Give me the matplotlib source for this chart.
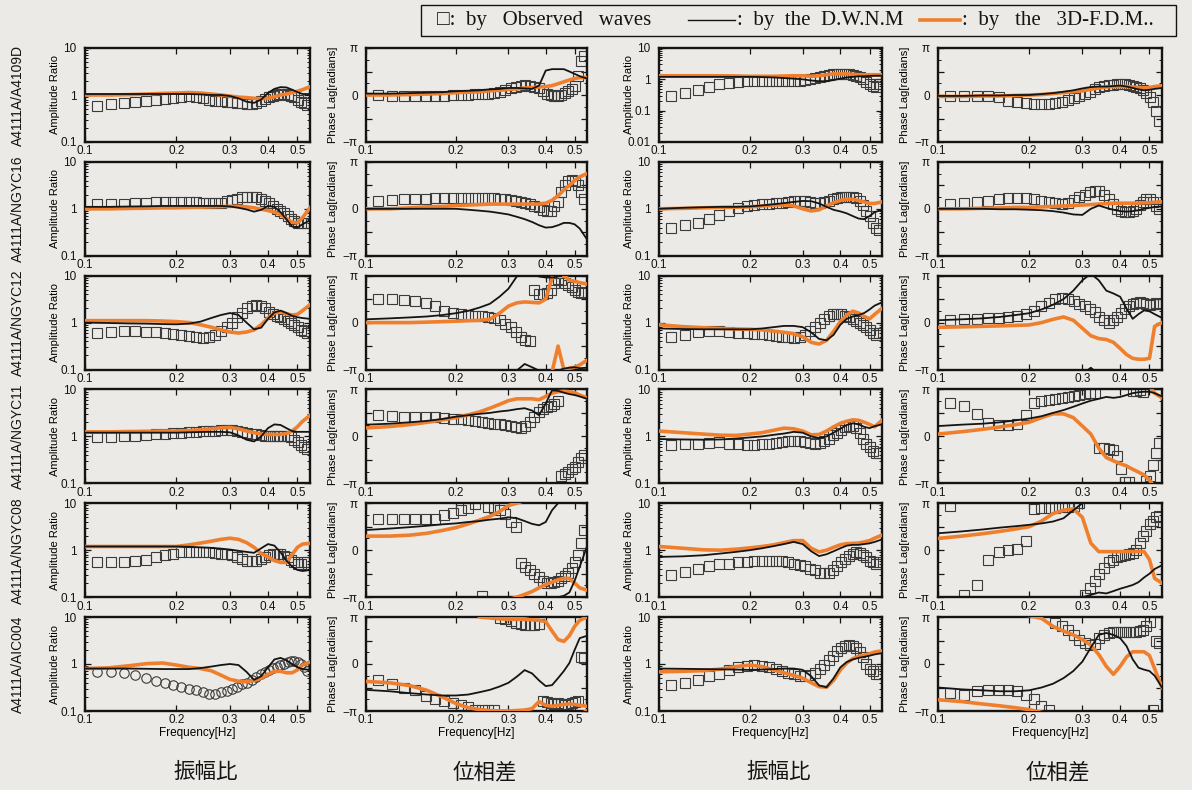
import numpy as np
import matplotlib
matplotlib.use("Agg")
import matplotlib.pyplot as plt
from matplotlib.lines import Line2D
from matplotlib.patches import Rectangle
from matplotlib.ticker import FixedLocator, FixedFormatter, NullLocator, NullFormatter, LogLocator

nan = np.nan

# ---------------------------------------------------------------- frequencies
# spectral lines of the observed records (df = 1/81.92 s)
FREQ_OBS = np.arange(9, 45) * 0.01220703125
# frequencies at which the model curves are listed
FREQ_MODEL = [0.10, 0.12, 0.14, 0.16, 0.18, 0.20, 0.22, 0.24, 0.26, 0.28, 0.30, 0.32,
              0.34, 0.36, 0.38, 0.40, 0.42, 0.44, 0.46, 0.48, 0.50, 0.52, 0.55]

STATIONS = ["A4111A/A4109D", "A4111A/NGYC16", "A4111A/NGYC12",
            "A4111A/NGYC11", "A4111A/NGYC08", "A4111A/AIC004"]
X_TICKS = [0.1, 0.2, 0.3, 0.4, 0.5]
X_TICK_LABELS = ["0.1", "0.2", "0.3", "0.4", "0.5"]
PHASE_TICKS = [-1.0, -0.5, 0.0, 0.5, 1.0]          # in units of pi
PHASE_TICK_LABELS = ["\u2212\u03c0", "", "0", "", "\u03c0"]
BOTTOM_TITLES = ["振幅比", "位相差", "振幅比", "位相差"]

# ---------------------------------------------------------------- A4109D
a4109d_l_amp_obs = [0.58, 0.63, 0.68, 0.71, 0.76, 0.80, 0.83, 0.85, 0.90, 0.94, 0.92, 0.87,
                    0.80, 0.76, 0.74, 0.71, 0.70, 0.68, 0.67, 0.65, 0.64, 0.68, 0.74, 0.83,
                    0.92, 0.97, 1.02, 1.07, 1.07, 1.02, 0.97, 0.90, 0.80, 0.72, 0.66, 0.60]
a4109d_l_amp_dwnm = [1.05, 1.05, 1.05, 1.05, 1.05, 1.05, 1.05, 1.03, 1.0, 1.0, 0.95, 0.85,
                     0.72, 0.68, 0.8, 1.1, 1.35, 1.47, 1.45, 1.3, 1.15, 1.05, 1.05]
a4109d_l_amp_fdm = [1.0, 1.0, 1.02, 1.05, 1.08, 1.1, 1.12, 1.1, 1.05, 1.0, 0.95, 0.9,
                    0.88, 0.85, 0.83, 0.85, 0.92, 1.0, 1.05, 1.12, 1.2, 1.3, 1.5]
a4109d_l_ph_obs = [0.0, -0.02, -0.02, -0.03, -0.03, -0.03, -0.02, 0.0, 0.0, 0.01, 0.02, 0.03,
                   0.03, 0.04, 0.06, 0.10, 0.15, 0.18, 0.20, 0.21, 0.20, 0.18, 0.14, 0.08,
                   0.02, 0.0, -0.03, -0.02, 0.0, 0.05, 0.08, 0.12, 0.20, 0.40, 0.72, 0.82]
a4109d_l_ph_dwnm = [0.03, 0.03, 0.04, 0.05, 0.06, 0.08, 0.09, 0.1, 0.12, 0.13, 0.15, 0.15,
                    0.14, 0.13, 0.2, 0.52, 0.55, 0.55, 0.55, 0.5, 0.45, 0.4, 0.35]
a4109d_l_ph_fdm = [0.0, 0.0, 0.01, 0.02, 0.03, 0.05, 0.06, 0.07, 0.09, 0.1, 0.12, 0.13,
                   0.15, 0.16, 0.17, 0.18, 0.2, 0.24, 0.28, 0.32, 0.35, 0.37, 0.37]

a4109d_r_amp_obs = [0.30, 0.37, 0.45, 0.58, 0.72, 0.78, 0.84, 0.88, 0.90, 0.90, 0.90, 0.90,
                    0.90, 0.90, 0.90, 0.90, 0.92, 1.0, 1.1, 1.2, 1.3, 1.4, 1.45, 1.5,
                    1.5, 1.5, 1.45, 1.4, 1.3, 1.2, 1.0, 0.85, 0.7, 0.6, 0.55, 0.7]
a4109d_r_amp_dwnm = [1.2, 1.2, 1.2, 1.2, 1.2, 1.2, 1.18, 1.15, 1.1, 1.05, 1.0, 0.92,
                     0.87, 0.87, 0.95, 1.05, 1.15, 1.2, 1.25, 1.25, 1.28, 1.3, 1.3]
a4109d_r_amp_fdm = [1.3, 1.3, 1.3, 1.3, 1.28, 1.25, 1.25, 1.25, 1.28, 1.3, 1.3, 1.25,
                    1.3, 1.4, 1.5, 1.5, 1.5, 1.45, 1.4, 1.4, 1.4, 1.4, 1.4]
a4109d_r_ph_obs = [-0.03, -0.02, -0.02, -0.03, -0.05, -0.12, -0.15, -0.18, -0.20, -0.20, -0.19, -0.17,
                   -0.14, -0.10, -0.07, -0.03, 0.02, 0.07, 0.12, 0.17, 0.20, 0.22, 0.22, 0.23,
                   0.23, 0.23, 0.22, 0.20, 0.18, 0.15, 0.10, 0.05, -0.05, -0.15, -0.35, -0.55]
a4109d_r_ph_dwnm = [-0.02, -0.02, -0.01, -0.01, 0.0, 0.0, 0.02, 0.04, 0.07, 0.1, 0.14, 0.17,
                    0.18, 0.18, 0.19, 0.2, 0.18, 0.15, 0.12, 0.1, 0.11, 0.13, 0.15]
a4109d_r_ph_fdm = [-0.03, -0.03, -0.02, -0.02, -0.01, 0.0, 0.01, 0.03, 0.05, 0.07, 0.09, 0.12,
                   0.15, 0.17, 0.18, 0.18, 0.18, 0.17, 0.16, 0.15, 0.16, 0.18, 0.2]

# ---------------------------------------------------------------- NGYC16
ngyc16_l_amp_obs = [1.25, 1.25, 1.28, 1.30, 1.35, 1.38, 1.40, 1.40, 1.42, 1.40, 1.38, 1.35,
                    1.30, 1.30, 1.35, 1.45, 1.55, 1.65, 1.75, 1.80, 1.80, 1.75, 1.60, 1.45,
                    1.30, 1.15, 1.00, 0.90, 0.80, 0.70, 0.60, 0.55, 0.50, 0.50, 0.50, 0.50]
ngyc16_l_amp_dwnm = [1.1, 1.1, 1.12, 1.13, 1.15, 1.15, 1.15, 1.15, 1.15, 1.15, 1.12, 1.05,
                     0.97, 0.87, 0.95, 1.15, 1.1, 0.85, 0.6, 0.42, 0.4, 0.47, 0.57]
ngyc16_l_amp_fdm = [1.0, 1.0, 1.02, 1.03, 1.05, 1.05, 1.07, 1.08, 1.1, 1.12, 1.13, 1.13,
                    1.1, 1.05, 0.98, 0.92, 0.85, 0.75, 0.62, 0.52, 0.5, 0.65, 1.05]
ngyc16_l_ph_obs = [0.17, 0.18, 0.20, 0.20, 0.20, 0.22, 0.22, 0.22, 0.23, 0.23, 0.23, 0.23,
                   0.22, 0.22, 0.20, 0.20, 0.18, 0.17, 0.15, 0.12, 0.10, 0.07, 0.03, -0.02,
                   -0.05, -0.05, 0.05, 0.15, 0.35, 0.50, 0.60, 0.62, 0.60, 0.50, 0.35, 0.20]
ngyc16_l_ph_dwnm = [0.0, 0.0, 0.0, 0.0, 0.0, 0.0, -0.02, -0.04, -0.06, -0.09, -0.12, -0.17,
                    -0.22, -0.28, -0.35, -0.4, -0.39, -0.35, -0.3, -0.3, -0.33, -0.42, -0.65]
ngyc16_l_ph_fdm = [0.0, 0.0, 0.02, 0.04, 0.05, 0.07, 0.08, 0.09, 0.1, 0.1, 0.1, 0.1,
                   0.1, 0.1, 0.1, 0.12, 0.18, 0.28, 0.4, 0.5, 0.6, 0.68, 0.75]

ngyc16_r_amp_obs = [0.40, 0.45, 0.50, 0.60, 0.75, 0.90, 1.05, 1.15, 1.20, 1.25, 1.28, 1.30,
                    1.35, 1.40, 1.45, 1.50, 1.45, 1.40, 1.35, 1.35, 1.40, 1.50, 1.60, 1.70,
                    1.75, 1.80, 1.80, 1.80, 1.70, 1.50, 1.20, 0.90, 0.70, 0.50, 0.40, 0.35]
ngyc16_r_amp_dwnm = [1.0, 1.05, 1.08, 1.1, 1.1, 1.12, 1.18, 1.25, 1.32, 1.4, 1.47, 1.45,
                     1.3, 1.1, 0.95, 0.88, 0.8, 0.7, 0.62, 0.6, 0.7, 0.85, 0.95]
ngyc16_r_amp_fdm = [1.0, 1.02, 1.05, 1.07, 1.08, 1.1, 1.15, 1.2, 1.22, 1.15, 1.0, 0.9,
                    0.95, 1.15, 1.35, 1.5, 1.6, 1.6, 1.5, 1.4, 1.3, 1.3, 1.4]
ngyc16_r_ph_obs = [0.10, 0.12, 0.14, 0.17, 0.20, 0.22, 0.23, 0.22, 0.20, 0.17, 0.14, 0.12,
                   0.10, 0.12, 0.18, 0.25, 0.30, 0.35, 0.38, 0.37, 0.30, 0.20, 0.10, 0.0,
                   -0.05, -0.07, -0.07, -0.05, 0.0, 0.08, 0.15, 0.20, 0.20, 0.15, 0.05, 0.0]
ngyc16_r_ph_dwnm = [0.0, 0.0, 0.0, -0.01, -0.01, -0.02, -0.03, -0.05, -0.08, -0.12, -0.13, 0.0,
                    0.07, 0.02, -0.02, -0.05, -0.06, -0.05, -0.03, 0.0, 0.02, 0.04, 0.05]
ngyc16_r_ph_fdm = [0.0, 0.0, 0.01, 0.02, 0.03, 0.03, 0.04, 0.05, 0.06, 0.07, 0.08, 0.09,
                   0.1, 0.11, 0.12, 0.12, 0.12, 0.12, 0.12, 0.13, 0.13, 0.14, 0.15]

# ---------------------------------------------------------------- NGYC12
ngyc12_l_amp_obs = [0.60, 0.62, 0.65, 0.65, 0.63, 0.62, 0.60, 0.57, 0.55, 0.53, 0.50, 0.48,
                    0.50, 0.55, 0.65, 0.80, 1.00, 1.30, 1.60, 2.00, 2.30, 2.40, 2.30, 2.00,
                    1.70, 1.50, 1.40, 1.30, 1.20, 1.10, 1.00, 0.90, 0.80, 0.70, 0.65, 0.60]
ngyc12_l_amp_dwnm = [1.0, 0.98, 0.96, 0.95, 0.93, 0.92, 0.95, 1.05, 1.25, 1.45, 1.6, 1.45,
                     1.0, 0.72, 0.78, 1.2, 1.65, 1.8, 1.6, 1.4, 1.3, 1.25, 1.2]
ngyc12_l_amp_fdm = [1.1, 1.1, 1.1, 1.1, 1.08, 1.05, 1.0, 0.9, 0.8, 0.7, 0.63, 0.6,
                    0.63, 0.7, 0.9, 1.25, 1.6, 1.7, 1.55, 1.45, 1.5, 1.8, 2.4]
ngyc12_l_ph_obs = [0.50, 0.50, 0.48, 0.47, 0.42, 0.35, 0.25, 0.20, 0.18, 0.17, 0.15, 0.13,
                   0.12, 0.10, 0.05, -0.02, -0.10, -0.20, -0.30, -0.37, -0.40, 0.70, 0.60, 0.60,
                   0.62, 0.70, 0.85, 0.92, 0.90, 0.85, 0.80, 0.75, 0.70, 0.65, 0.62, 0.65]
ngyc12_l_ph_dwnm = [0.07, 0.09, 0.11, 0.13, 0.16, 0.2, 0.25, 0.32, 0.4, 0.55, 0.72, 0.98,
                    1.12, 1.05, 0.98, 0.96, 0.96, 0.98, 1.02, 1.04, 1.05, 1.03, 1.04]
ngyc12_l_ph_fdm = [0.0, 0.0, 0.0, 0.01, 0.02, 0.03, 0.04, 0.05, 0.07, 0.2, 0.35, 0.42,
                   0.44, 0.43, 0.42, 0.5, 0.95, 1.5, 1.0, 0.9, 0.88, 0.85, 0.82]
ngyc12_l_ph_fdm_branch = [nan] * 18 + [-1.0, -0.97, -0.95, -0.9, -0.8]

ngyc12_r_amp_obs = [0.50, 0.55, 0.62, 0.65, 0.65, 0.63, 0.60, 0.60, 0.58, 0.57, 0.55, 0.53,
                    0.50, 0.50, 0.48, 0.50, 0.55, 0.65, 0.80, 1.00, 1.20, 1.40, 1.50, 1.50,
                    1.50, 1.40, 1.30, 1.20, 1.10, 1.00, 0.90, 0.80, 0.70, 0.60, 0.55, 0.60]
ngyc12_r_amp_dwnm = [0.75, 0.73, 0.72, 0.72, 0.72, 0.72, 0.75, 0.8, 0.85, 0.85, 0.8, 0.62,
                     0.45, 0.42, 0.55, 0.9, 1.2, 1.35, 1.45, 1.6, 1.9, 2.3, 2.7]
ngyc12_r_amp_fdm = [0.9, 0.82, 0.78, 0.75, 0.73, 0.72, 0.7, 0.66, 0.62, 0.58, 0.5, 0.38,
                    0.35, 0.42, 0.65, 1.05, 1.45, 1.75, 1.6, 1.35, 1.2, 1.5, 2.0]
ngyc12_r_ph_obs = [0.05, 0.07, 0.08, 0.10, 0.10, 0.12, 0.13, 0.18, 0.25, 0.35, 0.42, 0.50,
                   0.52, 0.50, 0.45, 0.40, 0.35, 0.30, 0.22, 0.12, 0.05, 0.0, 0.05, 0.12,
                   0.20, 0.30, 0.35, 0.40, 0.42, 0.43, 0.42, 0.40, 0.38, 0.40, 0.42, 0.40]
ngyc12_r_ph_dwnm = [0.05, 0.07, 0.09, 0.12, 0.16, 0.2, 0.28, 0.38, 0.5, 0.68, 0.9, 1.04,
                    0.9, 0.68, 0.62, 0.55, 0.3, 0.08, 0.18, 0.26, 0.24, 0.18, 0.1]
ngyc12_r_ph_fdm = [-0.1, -0.09, -0.08, -0.07, -0.06, -0.05, 0.0, 0.07, 0.12, 0.05, -0.12, -0.28,
                   -0.34, -0.36, -0.42, -0.55, -0.68, -0.76, -0.78, -0.78, -0.76, -0.08, 0.0]

# ---------------------------------------------------------------- NGYC11
ngyc11_l_amp_obs = [0.95, 0.97, 1.00, 1.02, 1.08, 1.12, 1.15, 1.18, 1.20, 1.22, 1.25, 1.28,
                    1.30, 1.33, 1.35, 1.35, 1.35, 1.30, 1.25, 1.20, 1.15, 1.10, 1.05, 1.00,
                    1.00, 1.00, 1.00, 1.00, 1.00, 1.00, 0.95, 0.85, 0.75, 0.65, 0.60, 0.55]
ngyc11_l_amp_dwnm = [1.2, 1.2, 1.2, 1.2, 1.2, 1.2, 1.22, 1.24, 1.25, 1.25, 1.22, 1.05,
                     0.85, 0.78, 1.0, 1.5, 1.8, 1.75, 1.5, 1.3, 1.25, 1.25, 1.25]
ngyc11_l_amp_fdm = [1.25, 1.25, 1.27, 1.28, 1.3, 1.3, 1.33, 1.38, 1.45, 1.52, 1.55, 1.45,
                    1.3, 1.2, 1.12, 1.1, 1.1, 1.1, 1.15, 1.3, 1.6, 2.1, 2.8]
ngyc11_l_ph_obs = [0.45, 0.43, 0.42, 0.42, 0.42, 0.41, 0.40, 0.38, 0.36, 0.34, 0.32, 0.30,
                   0.28, 0.27, 0.26, 0.25, 0.23, 0.20, 0.18, 0.22, 0.30, 0.42, 0.52, 0.58,
                   0.62, 0.65, 0.70, 0.75, -0.85, -0.80, -0.75, -0.70, -0.65, -0.55, -0.45, -0.40]
ngyc11_l_ph_dwnm = [0.25, 0.27, 0.3, 0.33, 0.37, 0.42, 0.45, 0.48, 0.5, 0.53, 0.55, 0.58,
                    0.6, 0.55, 0.45, 0.7, 0.98, 0.97, 0.93, 0.9, 0.88, 0.85, 0.8]
ngyc11_l_ph_fdm = [0.18, 0.21, 0.25, 0.3, 0.35, 0.4, 0.46, 0.52, 0.6, 0.68, 0.76, 0.8,
                   0.8, 0.8, 0.78, 0.85, 0.92, 0.95, 0.96, 0.95, 0.93, 0.88, 0.82]

ngyc11_r_amp_obs = [0.65, 0.68, 0.70, 0.72, 0.75, 0.70, 0.68, 0.67, 0.67, 0.68, 0.70, 0.72,
                    0.75, 0.78, 0.78, 0.78, 0.75, 0.72, 0.70, 0.72, 0.78, 0.90, 1.05, 1.20,
                    1.40, 1.60, 1.70, 1.70, 1.50, 1.20, 0.90, 0.70, 0.60, 0.50, 0.45, 0.45]
ngyc11_r_amp_dwnm = [0.88, 0.86, 0.85, 0.86, 0.9, 0.95, 1.0, 1.08, 1.15, 1.25, 1.2, 1.0,
                     0.92, 1.0, 1.2, 1.45, 1.75, 1.9, 1.8, 1.6, 1.5, 1.65, 1.8]
ngyc11_r_amp_fdm = [1.3, 1.2, 1.12, 1.06, 1.05, 1.12, 1.2, 1.35, 1.5, 1.45, 1.3, 1.08,
                    1.1, 1.3, 1.6, 1.9, 2.1, 2.25, 2.2, 2.0, 1.8, 1.6, 2.2]
ngyc11_r_ph_obs = [0.71, 0.64, 0.48, 0.29, 0.24, 0.24, 0.26, 0.45, 0.72, 0.75, 0.78, 0.80,
                   0.82, 0.84, 0.86, 0.88, 0.90, 0.92, 0.93, -0.25, -0.25, -0.27, -0.30, -0.42,
                   -0.70, -0.96, -0.97, 0.97, 0.97, 0.98, 0.95, -0.95, -0.85, -0.60, -0.35, -0.15]
ngyc11_r_ph_dwnm = [0.22, 0.25, 0.27, 0.3, 0.34, 0.38, 0.43, 0.5, 0.56, 0.63, 0.7, 0.76,
                    0.8, 0.84, 0.82, 0.84, 0.88, 0.92, 0.94, 0.95, 0.95, 0.92, 0.85]
ngyc11_r_ph_fdm = [0.05, 0.1, 0.15, 0.2, 0.25, 0.3, 0.4, 0.48, 0.48, 0.4, 0.22, 0.05,
                   -0.25, -0.45, -0.52, -0.58, -0.63, -0.7, -0.76, -0.82, -0.93, -1.08, -1.18]

# ---------------------------------------------------------------- NGYC08
ngyc08_l_amp_obs = [0.55, 0.55, 0.56, 0.58, 0.62, 0.70, 0.78, 0.85, 0.90, 0.92, 0.93, 0.92,
                    0.90, 0.88, 0.85, 0.82, 0.78, 0.72, 0.65, 0.60, 0.58, 0.60, 0.65, 0.72,
                    0.80, 0.85, 0.85, 0.82, 0.75, 0.70, 0.62, 0.55, 0.50, 0.50, 0.55, 0.55]
ngyc08_l_amp_dwnm = [1.2, 1.2, 1.2, 1.2, 1.2, 1.2, 1.18, 1.15, 1.12, 1.08, 1.03, 0.97,
                     0.92, 0.88, 1.1, 1.35, 1.25, 0.9, 0.6, 0.45, 0.38, 0.36, 0.38]
ngyc08_l_amp_fdm = [1.2, 1.2, 1.2, 1.2, 1.2, 1.2, 1.3, 1.42, 1.55, 1.7, 1.8, 1.7,
                    1.45, 1.15, 0.85, 0.72, 0.6, 0.55, 0.55, 0.8, 1.15, 1.35, 1.4]
ngyc08_l_ph_obs = [0.67, 0.67, 0.67, 0.67, 0.67, 0.67, 0.75, 0.80, 0.85, 0.89, 0.98, -0.97,
                   0.92, 0.90, 0.85, 0.78, 0.60, 0.49, -0.28, -0.35, -0.42, -0.50, -0.58, -0.66,
                   -0.70, -0.70, -0.68, -0.66, -0.60, -0.55, -0.48, -0.38, -0.25, -0.10, 0.15, 0.42]
ngyc08_l_ph_dwnm = [0.43, 0.46, 0.49, 0.52, 0.55, 0.57, 0.6, 0.62, 0.65, 0.67, 0.7, 0.68,
                    0.62, 0.56, 0.53, 0.6, 0.85, 1.0, 1.03, 1.1, 1.35, 1.65, 2.08]
ngyc08_l_ph_fdm = [0.3, 0.3, 0.32, 0.36, 0.42, 0.48, 0.56, 0.64, 0.72, 0.82, 0.95, 1.0,
                   1.06, 1.12, 1.2, 1.27, 1.32, 1.37, 1.4, 1.4, 1.3, 1.2, 1.15]

ngyc08_r_amp_obs = [0.30, 0.35, 0.40, 0.45, 0.50, 0.52, 0.55, 0.57, 0.60, 0.60, 0.60, 0.60,
                    0.58, 0.55, 0.52, 0.48, 0.45, 0.40, 0.37, 0.33, 0.32, 0.33, 0.38, 0.45,
                    0.55, 0.65, 0.75, 0.85, 0.90, 0.88, 0.80, 0.70, 0.60, 0.55, 0.50, 0.55]
ngyc08_r_amp_dwnm = [0.72, 0.74, 0.78, 0.85, 0.92, 1.0, 1.1, 1.22, 1.35, 1.5, 1.35, 0.95,
                     0.75, 0.82, 0.95, 1.1, 1.25, 1.3, 1.3, 1.35, 1.4, 1.5, 1.7]
ngyc08_r_amp_fdm = [1.2, 1.1, 1.02, 1.0, 1.05, 1.12, 1.2, 1.3, 1.45, 1.6, 1.6, 1.1,
                    0.92, 1.0, 1.15, 1.3, 1.38, 1.4, 1.42, 1.5, 1.6, 1.8, 2.1]
ngyc08_r_ph_obs = [0.95, -0.95, -0.73, -0.21, -0.03, 0.0, 0.03, 0.20, 0.88, 0.90, 0.90, 0.90,
                   0.92, 0.92, 0.95, 1.0, -0.95, -0.80, -0.65, -0.50, -0.38, -0.25, -0.20, -0.15,
                   -0.12, -0.10, -0.08, -0.05, 0.0, 0.15, 0.30, 0.40, 0.55, 0.62, 0.70, 0.72]
ngyc08_r_ph_dwnm = [0.36, 0.4, 0.44, 0.48, 0.51, 0.54, 0.57, 0.61, 0.68, 0.85, 1.0, 1.05,
                    1.1, 1.08, 1.13, 1.18, 1.22, 1.26, 1.32, 1.42, 1.5, 1.6, 1.68]
ngyc08_r_ph_fdm = [0.25, 0.3, 0.35, 0.4, 0.45, 0.5, 0.62, 0.78, 0.85, 0.88, 0.7, 0.15,
                   -0.03, -0.03, -0.03, -0.03, -0.03, -0.03, -0.03, -0.03, -0.2, -0.6, -0.7]

# ---------------------------------------------------------------- AIC004
aic004_l_amp_obs = [0.69, 0.69, 0.65, 0.58, 0.50, 0.44, 0.39, 0.35, 0.32, 0.30, 0.28, 0.25,
                    0.23, 0.23, 0.25, 0.27, 0.30, 0.33, 0.37, 0.40, 0.45, 0.52, 0.60, 0.68,
                    0.75, 0.82, 0.88, 0.95, 1.00, 1.08, 1.15, 1.18, 1.12, 1.00, 0.88, 0.72]
aic004_l_amp_dwnm = [0.8, 0.8, 0.8, 0.79, 0.78, 0.78, 0.78, 0.82, 0.88, 0.95, 1.0, 0.95,
                     0.68, 0.46, 0.55, 0.85, 1.25, 1.35, 1.2, 1.0, 0.85, 0.78, 0.75]
aic004_l_amp_fdm = [0.8, 0.83, 0.92, 1.02, 1.05, 0.95, 0.85, 0.8, 0.72, 0.58, 0.47, 0.43,
                    0.42, 0.45, 0.5, 0.6, 0.7, 0.7, 0.65, 0.65, 0.75, 0.95, 1.1]
aic004_l_ph_obs = [-0.34, -0.43, -0.51, -0.56, -0.69, -0.74, -0.79, -0.84, -0.88, -0.91, -0.97, -0.97,
                   -0.97, -0.98, 0.97, 0.95, 0.92, 0.88, 0.85, 0.83, 0.82, 0.82, 0.85, -0.78,
                   -0.80, -0.82, -0.85, -0.83, -0.85, -0.88, -0.85, -0.82, -0.80, -0.78, 0.15, 0.12]
aic004_l_ph_dwnm = [-0.55, -0.58, -0.62, -0.65, -0.67, -0.67, -0.65, -0.6, -0.55, -0.48, -0.4, -0.27,
                    -0.13, -0.2, -0.35, -0.47, -0.45, -0.3, -0.15, 0.02, 0.3, 0.55, 0.6]
aic004_l_ph_fdm = [-0.37, -0.4, -0.46, -0.56, -0.7, -0.84, -0.93, -0.97, -0.99, -1.0, -1.0, -0.99,
                   -0.98, -0.95, -0.8, -0.88, -0.9, -0.88, -0.86, -0.85, -0.86, -0.88, -0.9]
aic004_l_ph_fdm_branch = [nan] * 7 + [1.0, 0.98, 0.96, 0.95, 0.95, 0.95, 0.94, 0.93, 0.9,
                                      0.7, 0.52, 0.48, 0.6, 0.8, 0.93, 1.0]

aic004_r_amp_obs = [0.35, 0.40, 0.45, 0.55, 0.62, 0.75, 0.85, 0.92, 0.95, 0.90, 0.85, 0.80,
                    0.72, 0.65, 0.60, 0.56, 0.55, 0.58, 0.65, 0.78, 0.95, 1.20, 1.50, 1.90,
                    2.20, 2.40, 2.50, 2.40, 2.20, 1.80, 1.40, 1.00, 0.80, 0.70, 0.62, 0.60]
aic004_r_amp_dwnm = [0.8, 0.79, 0.78, 0.77, 0.76, 0.75, 0.76, 0.78, 0.8, 0.8, 0.75, 0.55,
                     0.35, 0.32, 0.5, 0.85, 1.1, 1.25, 1.35, 1.42, 1.5, 1.6, 1.7]
aic004_r_amp_fdm = [0.68, 0.7, 0.72, 0.78, 0.88, 0.95, 0.88, 0.75, 0.65, 0.57, 0.5, 0.4,
                    0.33, 0.32, 0.45, 0.75, 1.05, 1.3, 1.45, 1.55, 1.65, 1.8, 1.9]
aic004_r_ph_obs = [-0.62, -0.65, -0.58, -0.56, -0.55, -0.55, -0.58, -0.65, -0.75, -0.90, -0.98, 0.88,
                   0.80, 0.72, 0.62, 0.52, 0.45, 0.40, 0.42, 0.55, 0.62, 0.66, 0.68, 0.68,
                   0.68, 0.68, 0.68, 0.68, 0.68, 0.70, 0.72, 0.80, 0.90, -0.97, 0.50, 0.45]
aic004_r_ph_dwnm = [-0.5, -0.54, -0.56, -0.58, -0.58, -0.56, -0.5, -0.42, -0.3, -0.15, 0.05, 0.35,
                    0.62, 0.66, 0.62, 0.55, 0.38, 0.1, -0.08, -0.12, -0.15, -0.25, -0.5]
aic004_r_ph_fdm = [-0.76, -0.8, -0.85, -0.89, -0.93, -0.97, -1.03, -1.2, -1.3, -1.38, -1.48, -1.6,
                   -1.8, -2.05, -2.22, -2.05, -1.85, -1.74, -1.74, -1.74, -1.82, -2.1, -2.5]

# ---------------------------------------------------------------- panel table
# per row: (amp obs, amp dwnm, amp fdm, phase obs, phase dwnm, phase fdm, extra fdm branch)
LEFT = [
    (a4109d_l_amp_obs, a4109d_l_amp_dwnm, a4109d_l_amp_fdm, a4109d_l_ph_obs, a4109d_l_ph_dwnm, a4109d_l_ph_fdm, None),
    (ngyc16_l_amp_obs, ngyc16_l_amp_dwnm, ngyc16_l_amp_fdm, ngyc16_l_ph_obs, ngyc16_l_ph_dwnm, ngyc16_l_ph_fdm, None),
    (ngyc12_l_amp_obs, ngyc12_l_amp_dwnm, ngyc12_l_amp_fdm, ngyc12_l_ph_obs, ngyc12_l_ph_dwnm, ngyc12_l_ph_fdm, ngyc12_l_ph_fdm_branch),
    (ngyc11_l_amp_obs, ngyc11_l_amp_dwnm, ngyc11_l_amp_fdm, ngyc11_l_ph_obs, ngyc11_l_ph_dwnm, ngyc11_l_ph_fdm, None),
    (ngyc08_l_amp_obs, ngyc08_l_amp_dwnm, ngyc08_l_amp_fdm, ngyc08_l_ph_obs, ngyc08_l_ph_dwnm, ngyc08_l_ph_fdm, None),
    (aic004_l_amp_obs, aic004_l_amp_dwnm, aic004_l_amp_fdm, aic004_l_ph_obs, aic004_l_ph_dwnm, aic004_l_ph_fdm, aic004_l_ph_fdm_branch),
]
RIGHT = [
    (a4109d_r_amp_obs, a4109d_r_amp_dwnm, a4109d_r_amp_fdm, a4109d_r_ph_obs, a4109d_r_ph_dwnm, a4109d_r_ph_fdm, None),
    (ngyc16_r_amp_obs, ngyc16_r_amp_dwnm, ngyc16_r_amp_fdm, ngyc16_r_ph_obs, ngyc16_r_ph_dwnm, ngyc16_r_ph_fdm, None),
    (ngyc12_r_amp_obs, ngyc12_r_amp_dwnm, ngyc12_r_amp_fdm, ngyc12_r_ph_obs, ngyc12_r_ph_dwnm, ngyc12_r_ph_fdm, None),
    (ngyc11_r_amp_obs, ngyc11_r_amp_dwnm, ngyc11_r_amp_fdm, ngyc11_r_ph_obs, ngyc11_r_ph_dwnm, ngyc11_r_ph_fdm, None),
    (ngyc08_r_amp_obs, ngyc08_r_amp_dwnm, ngyc08_r_amp_fdm, ngyc08_r_ph_obs, ngyc08_r_ph_dwnm, ngyc08_r_ph_fdm, None),
    (aic004_r_amp_obs, aic004_r_amp_dwnm, aic004_r_amp_fdm, aic004_r_ph_obs, aic004_r_ph_dwnm, aic004_r_ph_fdm, None),
]

# ---------------------------------------------------------------- style
BG = "#ebeae6"
ORANGE = "#ef7f2c"
INK = "#141414"
SANS = ["Liberation Sans Narrow", "Liberation Sans", "DejaVu Sans"]
SERIF = ["Liberation Serif", "DejaVu Serif"]
CJK = ["Noto Sans CJK JP", "DejaVu Sans"]

plt.rcParams["font.family"] = SANS
plt.rcParams["axes.edgecolor"] = INK
plt.rcParams["xtick.color"] = INK
plt.rcParams["ytick.color"] = INK

W, H = 1192, 790
fig = plt.figure(figsize=(W / 100, H / 100), dpi=100, facecolor=BG)

COL_X = [85, 366, 659, 938]
COL_W = [225, 221, 223, 224]
ROW_TOP0, ROW_STEP, ROW_H = 48, 113.8, 94


def px_axes(x0, y0, w, h):
    return fig.add_axes([x0 / W, 1 - (y0 + h) / H, w / W, h / H])


def base_style(ax):
    ax.set_facecolor(BG)
    ax.set_xscale("log")
    ax.set_xlim(0.1, 0.55)
    ax.xaxis.set_major_locator(FixedLocator(X_TICKS))
    ax.xaxis.set_major_formatter(FixedFormatter(X_TICK_LABELS))
    ax.xaxis.set_minor_locator(NullLocator())
    ax.tick_params(which="both", direction="in", top=True, right=True)
    ax.tick_params(which="major", length=4.5, width=0.9, labelsize=8.5)
    ax.tick_params(axis="x", which="major", pad=2.5)
    ax.tick_params(axis="y", which="major", pad=6)
    ax.tick_params(which="minor", length=2.5, width=0.7)
    for s in ax.spines.values():
        s.set_linewidth(1.7)


def draw_obs(ax, values, circles=False):
    ax.plot(FREQ_OBS, values, ls="none", marker="o" if circles else "s", ms=6.8,
            mfc="none", mec="#3b3b3b", mew=0.8, zorder=2)


def amp_panel(ax, obs, dwnm, fdm, low=0.1, circles=False):
    base_style(ax)
    ax.set_yscale("log")
    ax.set_ylim(low, 10)
    decades = [d for d in [0.01, 0.1, 1, 10] if d >= low]
    ax.yaxis.set_major_locator(FixedLocator(decades))
    ax.yaxis.set_major_formatter(FixedFormatter([f"{d:g}" for d in decades]))
    ax.yaxis.set_minor_locator(LogLocator(base=10, subs=np.arange(2, 10)))
    ax.yaxis.set_minor_formatter(NullFormatter())
    draw_obs(ax, obs, circles)
    ax.plot(FREQ_MODEL, fdm, color=ORANGE, lw=2.6, zorder=3)
    ax.plot(FREQ_MODEL, dwnm, color=INK, lw=1.3, zorder=4)
    ax.set_ylabel("Amplitude Ratio", fontsize=8)
    ax.yaxis.set_label_coords(-0.11, 0.5)


def phase_panel(ax, obs, dwnm, fdm, branch=None):
    base_style(ax)
    ax.set_ylim(-1, 1)
    ax.yaxis.set_major_locator(FixedLocator(PHASE_TICKS))
    ax.yaxis.set_major_formatter(FixedFormatter(PHASE_TICK_LABELS))
    ax.yaxis.set_minor_locator(FixedLocator([-0.75, -0.25, 0.25, 0.75]))
    draw_obs(ax, obs)
    curves = [(fdm, ORANGE, 2.6, 3), (dwnm, INK, 1.3, 4)]
    if branch is not None:
        curves.insert(1, (branch, ORANGE, 2.6, 3))
    # phase is periodic: draw each curve with its 2*pi images, the frame clips it
    for values, color, lw, z in curves:
        v = np.asarray(values, dtype=float)
        for shift in (-2.0, 0.0, 2.0):
            ax.plot(FREQ_MODEL, v + shift, color=color, lw=lw, zorder=z)
    ax.set_ylabel("Phase Lag[radians]", fontsize=8)
    ax.yaxis.set_label_coords(-0.125, 0.5)


for r in range(6):
    top = ROW_TOP0 + ROW_STEP * r
    for side, data in ((0, LEFT[r]), (1, RIGHT[r])):
        amp_obs, amp_d, amp_f, ph_obs, ph_d, ph_f, branch = data
        ca, cp = 2 * side, 2 * side + 1
        ax_a = px_axes(COL_X[ca], top, COL_W[ca], ROW_H)
        amp_panel(ax_a, amp_obs, amp_d, amp_f,
                  low=0.01 if (r == 0 and side == 1) else 0.1,
                  circles=(r == 5 and side == 0))
        ax_p = px_axes(COL_X[cp], top, COL_W[cp], ROW_H)
        phase_panel(ax_p, ph_obs, ph_d, ph_f, branch)
        if r == 5:
            for ax in (ax_a, ax_p):
                ax.set_xlabel("Frequency[Hz]", fontsize=8.5, labelpad=0.5)
    fig.text(18 / W, 1 - (top + ROW_H / 2) / H, STATIONS[r], rotation=90,
             ha="center", va="center", fontsize=10, color=INK)

# column captions
for c, title in enumerate(BOTTOM_TITLES):
    xc = COL_X[c] + COL_W[c] / 2 + 8
    fig.text(xc / W, 1 - 772 / H, title, ha="center", va="center",
             fontsize=15.5, family=CJK, color=INK)

# legend box
fig.patches.append(Rectangle((421 / W, 1 - 36 / H), 755 / W, 31 / H, transform=fig.transFigure,
                             fill=False, ec=INK, lw=1.0))
ly = 1 - 21 / H
fig.text(437 / W, ly, "\u25a1:  by   Observed   waves", ha="left", va="center",
         fontsize=15, family=SERIF, color=INK)
fig.lines.append(Line2D([688 / W, 735 / W], [ly + 1 / H] * 2, transform=fig.transFigure,
                        color=INK, lw=1.0))
fig.text(737 / W, ly, ":  by  the  D.W.N.M", ha="left", va="center",
         fontsize=15, family=SERIF, color=INK)
fig.lines.append(Line2D([920 / W, 960 / W], [ly + 1 / H] * 2, transform=fig.transFigure,
                        color=ORANGE, lw=2.6))
fig.text(962 / W, ly, ":  by   the   3D-F.D.M..", ha="left", va="center",
         fontsize=15, family=SERIF, color=INK)

fig.savefig("out.png", dpi=100, facecolor=BG)
